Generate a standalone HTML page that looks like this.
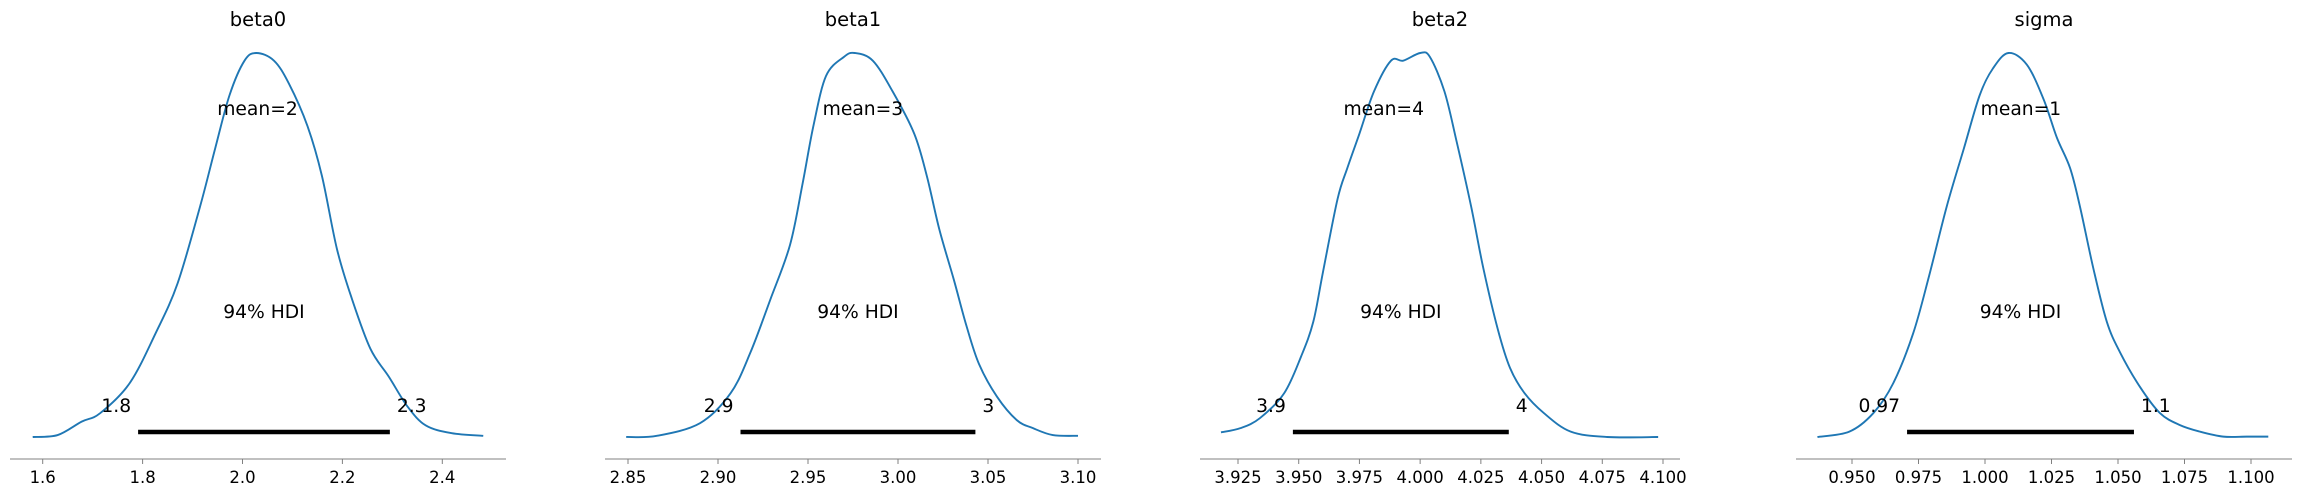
<!DOCTYPE html>
<html><head><meta charset="utf-8">
<style>
html,body{margin:0;padding:0;background:#fff;}
svg{display:block;font-family:"DejaVu Sans","Liberation Sans",sans-serif;}
</style></head>
<body>
<svg id="chart" width="2301" height="497" viewBox="0 0 2301 497" xmlns="http://www.w3.org/2000/svg"></svg>
<script>
// ---- data ----
const panelNames = ["beta0", "beta1", "beta2", "sigma"];
const meanLabels = ["mean=2", "mean=3", "mean=4", "mean=1"];
const meanValues = [2.03, 2.9805, 3.985, 1.0135];
const hdiLow = [1.791, 2.9125, 3.9476, 0.9707];
const hdiHigh = [2.295, 3.043, 4.0365, 1.056];
const hdiLowLabels = ["1.8", "2.9", "3.9", "0.97"];
const hdiHighLabels = ["2.3", "3", "4", "1.1"];
const tickValues0 = [1.6, 1.8, 2.0, 2.2, 2.4];
const tickLabels0 = ["1.6", "1.8", "2.0", "2.2", "2.4"];
const tickValues1 = [2.85, 2.90, 2.95, 3.00, 3.05, 3.10];
const tickLabels1 = ["2.85", "2.90", "2.95", "3.00", "3.05", "3.10"];
const tickValues2 = [3.925, 3.95, 3.975, 4.0, 4.025, 4.05, 4.075, 4.1];
const tickLabels2 = ["3.925", "3.950", "3.975", "4.000", "4.025", "4.050", "4.075", "4.100"];
const tickValues3 = [0.95, 0.975, 1.0, 1.025, 1.05, 1.075, 1.1];
const tickLabels3 = ["0.950", "0.975", "1.000", "1.025", "1.050", "1.075", "1.100"];
const kdeX0 = [1.580,1.630,1.678,1.715,1.774,1.826,1.870,1.915,1.945,1.974,2.004,2.028,2.063,2.093,2.130,2.159,2.189,2.219,2.256,2.293,2.330,2.367,2.419,2.482];
const kdeY0 = [0,0.005,0.04,0.062,0.14,0.27,0.40,0.60,0.75,0.89,0.98,1.0,0.98,0.92,0.81,0.68,0.49,0.36,0.23,0.157,0.08,0.03,0.01,0.003];
const kdeX1 = [2.849,2.866,2.890,2.907,2.918,2.929,2.940,2.947,2.953,2.960,2.970,2.976,2.986,2.997,3.009,3.016,3.023,3.031,3.038,3.045,3.055,3.066,3.075,3.086,3.100];
const kdeY1 = [0,0.003,0.036,0.114,0.22,0.357,0.50,0.66,0.81,0.94,0.99,1.0,0.98,0.90,0.79,0.68,0.54,0.41,0.29,0.19,0.105,0.044,0.023,0.005,0.003];
const kdeX2 = [3.918,3.926,3.934,3.944,3.951,3.956,3.960,3.966,3.970,3.975,3.981,3.988,3.993,4.000,4.004,4.010,4.015,4.021,4.026,4.032,4.037,4.043,4.051,4.062,4.077,4.098];
const kdeY2 = [0.012,0.023,0.049,0.114,0.21,0.30,0.43,0.62,0.70,0.79,0.90,0.98,0.98,1.0,0.99,0.90,0.77,0.60,0.44,0.28,0.18,0.114,0.062,0.014,0,0];
const kdeX3 = [0.937,0.949,0.958,0.9655,0.973,0.979,0.9856,0.992,0.998,1.003,1.0088,1.0157,1.022,1.027,1.032,1.0357,1.0407,1.0458,1.0508,1.0583,1.0658,1.0733,1.0808,1.0896,1.0984,1.1065];
const kdeY3 = [0,0.014,0.062,0.14,0.27,0.42,0.60,0.75,0.89,0.96,1.0,0.97,0.88,0.78,0.70,0.60,0.44,0.30,0.22,0.13,0.062,0.031,0.014,0.001,0.001,0.001];

// ---- layout (pixels, not data) ----
const layout = [
  {spineL: 10, spineR: 506, t0: 1.6, p0: 42.7, k: 499.5},
  {spineL: 605, spineR: 1101, t0: 2.85, p0: 628, k: 1800},
  {spineL: 1200, spineR: 1680, t0: 3.925, p0: 1238, k: 2428.6},
  {spineL: 1796, spineR: 2292, t0: 0.95, p0: 1852, k: 2660}
];
const tickV = [tickValues0, tickValues1, tickValues2, tickValues3];
const tickL = [tickLabels0, tickLabels1, tickLabels2, tickLabels3];
const kx = [kdeX0, kdeX1, kdeX2, kdeX3];
const ky = [kdeY0, kdeY1, kdeY2, kdeY3];
const Y0 = 437, YPEAK = 53, AXY = 459;
const NS = "http://www.w3.org/2000/svg";
const svg = document.getElementById("chart");
function mk(tag, attrs, parent) {
  const e = document.createElementNS(NS, tag);
  for (const a in attrs) e.setAttribute(a, attrs[a]);
  (parent || svg).appendChild(e);
  return e;
}
function yScale(d) { return Y0 - d * (Y0 - YPEAK); }
function smoothPath(pts) {
  let d = "M" + pts[0][0].toFixed(2) + "," + pts[0][1].toFixed(2);
  for (let i = 0; i < pts.length - 1; i++) {
    const p0 = pts[Math.max(0, i - 1)], p1 = pts[i], p2 = pts[i + 1], p3 = pts[Math.min(pts.length - 1, i + 2)];
    const c1x = p1[0] + (p2[0] - p0[0]) / 6, c1y = p1[1] + (p2[1] - p0[1]) / 6;
    const c2x = p2[0] - (p3[0] - p1[0]) / 6, c2y = p2[1] - (p3[1] - p1[1]) / 6;
    d += " C" + c1x.toFixed(2) + "," + c1y.toFixed(2) + " " + c2x.toFixed(2) + "," + c2y.toFixed(2) + " " + p2[0].toFixed(2) + "," + p2[1].toFixed(2);
  }
  return d;
}
for (let i = 0; i < 4; i++) {
  const L = layout[i];
  const xs = v => L.p0 + (v - L.t0) * L.k;
  const g = mk("g", {});
  
  
  const cx = (L.spineL + L.spineR) / 2;
  const title = mk("text", {x: cx, y: 26, "text-anchor": "middle", "font-size": "19.5", fill: "#000"}, g);
  title.textContent = panelNames[i];
  
  
  const sp = mk("line", {x1: L.spineL, x2: L.spineR, y1: AXY, y2: AXY, stroke: "#808080", "stroke-width": 1.1}, g);
  
  
  for (let t = 0; t < tickV[i].length; t++) {
    const x = xs(tickV[i][t]);
    const tk = mk("line", {x1: x, x2: x, y1: AXY, y2: AXY + 5, stroke: "#808080", "stroke-width": 1}, g);
    
    
    const tl = mk("text", {x: x, y: 483, "text-anchor": "middle", "font-size": "16.5", fill: "#000"}, g);
    tl.textContent = tickL[i][t];
    
    
  }
  const pts = kx[i].map((v, j) => [xs(v), yScale(ky[i][j])]);
  const kde = mk("path", {d: smoothPath(pts), fill: "none", stroke: "#1f77b4", "stroke-width": 1.9, "stroke-linejoin": "round"}, g);
  
  
  const hb = mk("line", {x1: xs(hdiLow[i]), x2: xs(hdiHigh[i]), y1: 432, y2: 432, stroke: "#000", "stroke-width": 4.6}, g);
  
  
  const hl = mk("text", {x: xs(hdiLow[i]) - 7, y: 412, "text-anchor": "end", "font-size": "18.7", fill: "#000"}, g);
  hl.textContent = hdiLowLabels[i];
  
  
  const hh = mk("text", {x: xs(hdiHigh[i]) + 7, y: 412, "text-anchor": "start", "font-size": "18.7", fill: "#000"}, g);
  hh.textContent = hdiHighLabels[i];
  
  
  const ht = mk("text", {x: xs((hdiLow[i] + hdiHigh[i]) / 2), y: 318, "text-anchor": "middle", "font-size": "18.7", fill: "#000"}, g);
  ht.textContent = "94% HDI";
  
  
  const mt = mk("text", {x: xs(meanValues[i]), y: 115, "text-anchor": "middle", "font-size": "18.7", fill: "#000"}, g);
  mt.textContent = meanLabels[i];
  
  
}
</script>
</body></html>
